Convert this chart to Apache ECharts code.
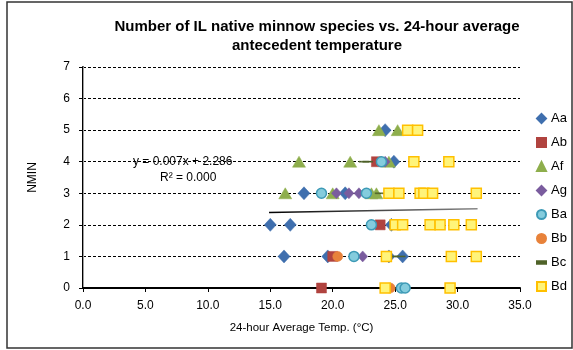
<!DOCTYPE html>
<html>
<head>
<meta charset="utf-8">
<script src="https://cdn.jsdelivr.net/npm/echarts@6/dist/echarts.min.js"></script>
<style>html,body{margin:0;padding:0;background:#fff;}#c{width:573px;height:350px;}</style>
</head>
<body>
<div id="c"></div>
<script>
// ---- data: [temperature (°C), NMIN] ----
var Aa = [[24.2,5],[24.9,4],[17.7,3],[21.0,3],[15.0,2],[16.6,2],[24.7,2],[16.1,1],[19.6,1],[24.5,1],[25.6,1]];
var Ab = [[23.5,4],[23.8,2],[20.0,1],[19.1,0]];
var Af = [[23.7,5],[25.2,5],[17.3,4],[21.4,4],[24.5,4],[16.2,3],[20.0,3],[23.1,3],[23.5,3]];
var Ag = [[24.2,4],[20.3,3],[21.3,3],[22.1,3],[22.4,1]];
var Ba = [[23.9,4],[19.1,3],[22.7,3],[23.1,2],[21.7,1],[25.5,0],[25.8,0]];
var Bb = [[20.4,1],[24.6,0]];
var Bc = [[22.5,4],[22.8,4],[23.8,3],[24.9,1],[25.4,1]];
var Bd = [[26.0,5],[26.8,5],[26.5,4],[29.3,4],[24.5,3],[25.3,3],[27.0,3],[27.3,3],[28.0,3],[31.5,3],
          [25.0,2],[25.6,2],[27.8,2],[28.6,2],[29.7,2],[31.1,2],[24.3,1],[29.5,1],[31.5,1],[24.2,0],[29.4,0]];
var seriesNames = ['Aa','Ab','Af','Ag','Ba','Bb','Bc','Bd'];
// trendline (from the chart's equation)
var trendSlope = 0.007, trendIntercept = 2.286;
var trendX = [14.9, 31.6];
var trendText = ['y = 0.007x + 2.286', 'R² = 0.000'];

var FONT = '"Liberation Sans", Arial, sans-serif';
var chart = echarts.init(document.getElementById('c'), null, {renderer:'canvas'});

var styles = {
  Aa: {symbol:'diamond', size:[12,13], color:'#3F6FAE', border:'#3F6FAE'},
  Ab: {symbol:'rect', size:10, color:'#B0433F', border:'#B0433F'},
  Af: {symbol:'triangle', size:[13,11], color:'#8EAE4C', border:'#8EAE4C'},
  Ag: {symbol:'diamond', size:[10,11], color:'#7A5C9E', border:'#7A5C9E'},
  Ba: {symbol:'circle', size:10, color:'#84CCDD', border:'#3D9AB6'},
  Bb: {symbol:'circle', size:10, color:'#E8823A', border:'#E8823A'},
  Bc: {symbol:'path://M0,0H10V3H0Z', size:[10,3], color:'#4F6228', border:'#4F6228'},
  Bd: {symbol:'rect', size:10, color:'#FFF47A', border:'#FFC000'}
};
var dataMap = {Aa:Aa, Ab:Ab, Af:Af, Ag:Ag, Ba:Ba, Bb:Bb, Bc:Bc, Bd:Bd};

var series = [{
  name: 'trend', type: 'line', xAxisIndex:0, yAxisIndex:0,
  data: trendX.map(function(x){ return [x, trendSlope*x + trendIntercept]; }),
  showSymbol:false, symbol:'none', silent:true,
  lineStyle:{width:1.5, color:{type:'linear',x:0,y:0,x2:1,y2:0,colorStops:[{offset:0,color:'#000'},{offset:1,color:'#888'}]}},
  z:1
}];
seriesNames.forEach(function(n){
  var s = styles[n];
  series.push({
    name:n, type:'scatter', data:dataMap[n],
    symbol:s.symbol, symbolSize:s.size, symbolKeepAspect:true,
    itemStyle:{color:s.color, borderColor:s.border, borderWidth: (n==='Bd'||n==='Ba')?1.5:0.5, opacity:1},
    z:2
  });
});

chart.setOption({
  animation:false,
  backgroundColor:'#fff',
  textStyle:{fontFamily:FONT},
  title:{
    text:'Number of IL native minnow species vs. 24-hour average\nantecedent temperature',
    left:312, top:12, textAlign:'center',
    textStyle:{fontFamily:FONT, fontSize:15, fontWeight:'bold', color:'#000', lineHeight:19}
  },
  legend:{
    orient:'vertical', left:531, top:107, itemGap:11, itemWidth:9, itemHeight:9,
    data: seriesNames,
    textStyle:{fontFamily:FONT, fontSize:13, color:'#000'}
  },
  grid:{left:83, right:53, top:67, bottom:62},
  xAxis:{
    type:'value', min:0, max:35, interval:5,
    name:'24-hour Average Temp. (°C)', nameLocation:'middle', nameGap:34,
    nameTextStyle:{fontFamily:FONT, fontSize:11.5, color:'#000'},
    axisLine:{show:true, onZero:false, lineStyle:{color:'#000', width:2}},
    axisTick:{show:true, length:4, lineStyle:{color:'#000'}},
    axisLabel:{margin:12, fontFamily:FONT, fontSize:12, color:'#000', formatter:function(v){return v.toFixed(1);}},
    splitLine:{show:false}
  },
  yAxis:[{
    type:'value', min:0, max:7, interval:1,
    name:'NMIN', nameLocation:'middle', nameGap:44,
    nameTextStyle:{fontFamily:FONT, fontSize:12, color:'#000'},
    axisLine:{show:true, onZero:false, lineStyle:{color:'#000', width:2}},
    axisTick:{show:true, length:4, lineStyle:{color:'#000'}},
    axisLabel:{margin:13, fontFamily:FONT, fontSize:12, color:'#000'},
    splitLine:{show:true, lineStyle:{color:'#000', width:1, type:[3,2]}}
  },{
    type:'value', min:0, max:7, interval:1, position:'right',
    axisLine:{show:true, lineStyle:{color:'#A0A0A0', width:1}},
    axisTick:{show:false}, axisLabel:{show:false}, splitLine:{show:false}
  }],
  graphic:[
    {type:'rect', shape:{x:7, y:2, width:565, height:346}, style:{fill:'none', stroke:'#333', lineWidth:1.5}, silent:true},
    {type:'text', left:133, top:156, style:{text:trendText[0], fontFamily:FONT, fontSize:12, fill:'#000'}, z:10},
    {type:'text', left:160, top:172, style:{text:trendText[1], fontFamily:FONT, fontSize:12, fill:'#000'}, z:10}
  ],
  series:series
});
</script>
</body>
</html>
